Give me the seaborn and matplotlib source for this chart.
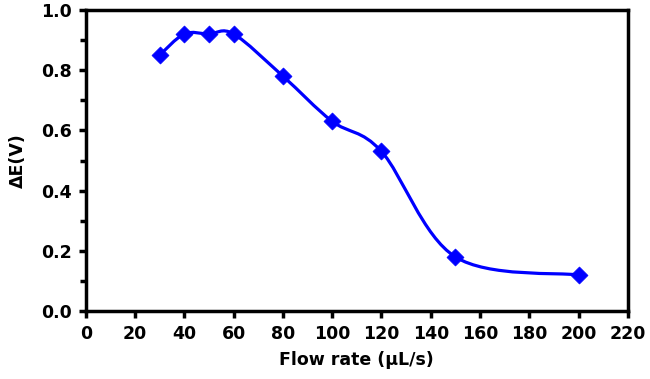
import matplotlib
matplotlib.use("Agg")
import matplotlib.pyplot as plt
from matplotlib.path import Path
from matplotlib.patches import PathPatch
from matplotlib.ticker import MultipleLocator
import seaborn as sns
import pandas as pd
import numpy as np

flow_rate = [30, 40, 50, 60, 80, 100, 120, 150, 200]
delta_e = [0.85, 0.92, 0.92, 0.92, 0.78, 0.63, 0.53, 0.18, 0.12]

sns.set_theme(style="white")
plt.rcParams['font.family'] = ['DejaVu Sans']
plt.rcParams['font.weight'] = 'bold'
plt.rcParams['text.color'] = 'black'
plt.rcParams['axes.labelcolor'] = 'black'
plt.rcParams['xtick.color'] = 'black'
plt.rcParams['ytick.color'] = 'black'

df = pd.DataFrame({"flow": flow_rate, "dE": delta_e})

fig = plt.figure(figsize=(6.5, 3.79), dpi=100)
ax = fig.add_axes([0.132, 0.179, 0.834, 0.795])

# smooth (Catmull-Rom style Bezier) line through the data, drawn by matplotlib's Bezier path
pts = np.column_stack([df["flow"].to_numpy(float), df["dE"].to_numpy(float)])
n = len(pts)
verts = [pts[0]]
codes = [Path.MOVETO]
for i in range(n - 1):
    p0 = pts[i - 1] if i > 0 else pts[i]
    p1 = pts[i]
    p2 = pts[i + 1]
    p3 = pts[i + 2] if i + 2 < n else pts[i + 1]
    c1 = p1 + (p2 - p0) / 6.0
    c2 = p2 - (p3 - p1) / 6.0
    verts += [c1, c2, p2]
    codes += [Path.CURVE4] * 3
patch = PathPatch(Path(verts, codes), facecolor='none', edgecolor='#0000FF', lw=2.3, zorder=2)
ax.add_patch(patch)

sns.scatterplot(data=df, x="flow", y="dE", marker='D', s=75, color='#0000FF',
                edgecolor='#0000FF', linewidth=0.5, ax=ax, zorder=3, legend=False)

ax.set_xlim(0, 220)
ax.set_ylim(0, 1.0)
ax.xaxis.set_major_locator(MultipleLocator(20))
ax.yaxis.set_major_locator(MultipleLocator(0.2))
ax.yaxis.set_minor_locator(MultipleLocator(0.1))
ax.yaxis.set_major_formatter(matplotlib.ticker.FormatStrFormatter('%.1f'))

for s in ax.spines.values():
    s.set_visible(True)
    s.set_color('black')
    s.set_linewidth(2.5)

ax.tick_params(axis='both', which='major', direction='out', length=5, width=2.5,
               color='black', labelcolor='black', labelsize=12.5, pad=5,
               bottom=True, left=True)
ax.tick_params(axis='y', which='minor', direction='out', length=4, width=2.5,
               color='black', left=True)
for lbl in ax.get_xticklabels() + ax.get_yticklabels():
    lbl.set_fontweight('bold')

ax.set_xlabel("Flow rate (μL/s)", fontsize=12.5, fontweight='bold', labelpad=6, color='black')
ax.set_ylabel("ΔE(V)", fontsize=12.5, fontweight='bold', labelpad=10, color='black')
ax.grid(False)

fig.savefig("out.png", dpi=100)
